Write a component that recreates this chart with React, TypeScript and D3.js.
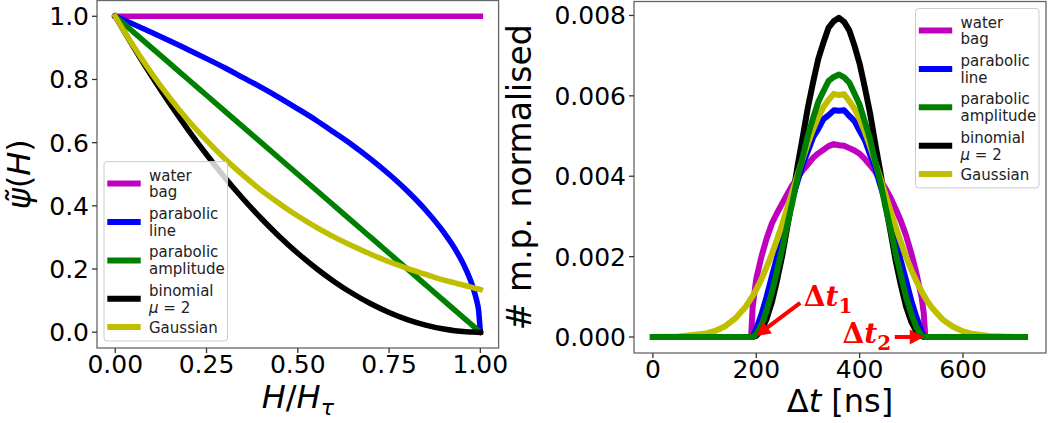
import React from 'react';
import * as d3 from 'd3';

// ---------- Left panel data: psi~(H) versus H/H_tau ----------
const hGrid = [0, 0.05, 0.1, 0.15, 0.2, 0.25, 0.3, 0.35, 0.4, 0.45, 0.5, 0.55, 0.6, 0.65, 0.7, 0.75, 0.8, 0.85, 0.9, 0.93, 0.96, 0.98, 0.99, 0.995, 1];
const psiWaterBag = [1, 1, 1, 1, 1, 1, 1, 1, 1, 1, 1, 1, 1, 1, 1, 1, 1, 1, 1, 1, 1, 1, 1, 1, 1];
const psiParabolicLine = [1, 0.975, 0.949, 0.922, 0.894, 0.866, 0.837, 0.806, 0.775, 0.742, 0.707, 0.671, 0.632, 0.592, 0.548, 0.5, 0.447, 0.387, 0.316, 0.265, 0.2, 0.141, 0.1, 0.071, 0];
const psiParabolicAmplitude = [1, 0.95, 0.9, 0.85, 0.8, 0.75, 0.7, 0.65, 0.6, 0.55, 0.5, 0.45, 0.4, 0.35, 0.3, 0.25, 0.2, 0.15, 0.1, 0.07, 0.04, 0.02, 0.01, 0.005, 0];
const psiBinomial = [1, 0.9025, 0.81, 0.7225, 0.64, 0.5625, 0.49, 0.4225, 0.36, 0.3025, 0.25, 0.2025, 0.16, 0.1225, 0.09, 0.0625, 0.04, 0.0225, 0.01, 0.0049, 0.0016, 0.0004, 0.0001, 0, 0];
const psiGaussian = [1, 0.905, 0.819, 0.741, 0.67, 0.607, 0.549, 0.497, 0.449, 0.407, 0.368, 0.333, 0.301, 0.273, 0.247, 0.223, 0.202, 0.183, 0.165, 0.156, 0.147, 0.141, 0.138, 0.137, 0.135];

// ---------- Right panel data: # m.p. normalised (units of 1e-3) versus Δt [ns] ----------
const tGrid = [0, 50, 100, 120, 140, 160, 180, 190, 193, 200, 210, 220, 230, 240, 250, 260, 270, 280, 290, 300, 310, 320, 330, 340, 350, 360, 370, 380, 390, 400, 410, 420, 430, 440, 450, 460, 470, 480, 490, 500, 510, 520, 524, 527, 530, 540, 560, 580, 600, 620, 650, 700, 720];
const dtWaterBag = [0, 0, 0, 0, 0, 0, 0, 0, 0.75, 1.45, 2.0, 2.45, 2.82, 3.08, 3.32, 3.55, 3.78, 3.97, 4.15, 4.3, 4.46, 4.57, 4.66, 4.75, 4.8, 4.77, 4.76, 4.7, 4.64, 4.56, 4.43, 4.28, 4.12, 3.9, 3.7, 3.46, 3.18, 2.88, 2.52, 2.08, 1.58, 0.98, 0.6, 0, 0, 0, 0, 0, 0, 0, 0, 0, 0];
const dtParabolicLine = [0, 0, 0, 0, 0, 0, 0, 0, 0, 0.2, 0.56, 1.0, 1.5, 1.98, 2.5, 2.97, 3.46, 3.88, 4.3, 4.63, 4.97, 5.18, 5.42, 5.52, 5.64, 5.63, 5.64, 5.5, 5.37, 5.13, 4.9, 4.55, 4.22, 3.78, 3.36, 2.87, 2.4, 1.88, 1.4, 0.9, 0.49, 0.13, 0.02, 0, 0, 0, 0, 0, 0, 0, 0, 0, 0];
const dtParabolicAmplitude = [0, 0, 0, 0, 0, 0, 0, 0, 0, 0.07, 0.3, 0.66, 1.1, 1.63, 2.18, 2.79, 3.36, 3.97, 4.49, 5.02, 5.45, 5.85, 6.12, 6.37, 6.47, 6.53, 6.46, 6.33, 6.06, 5.78, 5.36, 4.93, 4.37, 3.86, 3.24, 2.67, 2.06, 1.52, 0.99, 0.58, 0.23, 0.04, 0.01, 0, 0, 0, 0, 0, 0, 0, 0, 0, 0];
const dtBinomial = [0, 0, 0, 0, 0, 0, 0, 0, 0, 0.03, 0.17, 0.45, 0.86, 1.4, 2.01, 2.74, 3.47, 4.26, 4.98, 5.72, 6.34, 6.92, 7.33, 7.7, 7.86, 7.94, 7.84, 7.63, 7.25, 6.8, 6.21, 5.58, 4.83, 4.11, 3.31, 2.6, 1.88, 1.28, 0.75, 0.38, 0.13, 0.02, 0, 0, 0, 0, 0, 0, 0, 0, 0, 0, 0];
const dtGaussian = [0.0015, 0.013, 0.08, 0.15, 0.27, 0.47, 0.76, 0.96, 1.02, 1.18, 1.44, 1.74, 2.06, 2.42, 2.8, 3.21, 3.62, 4.04, 4.44, 4.82, 5.17, 5.47, 5.72, 5.9, 6.05, 6.02, 6.04, 5.87, 5.68, 5.42, 5.11, 4.75, 4.36, 3.96, 3.54, 3.13, 2.73, 2.35, 1.99, 1.67, 1.39, 1.13, 1.04, 0.98, 0.91, 0.73, 0.44, 0.26, 0.14, 0.074, 0.025, 0.003, 0.001];

// ---------- Ticks / labels ----------
const leftXTicks = [0, 0.25, 0.5, 0.75, 1.0];
const leftYTicks = [0, 0.2, 0.4, 0.6, 0.8, 1.0];
const rightXTicks = [0, 200, 400, 600];
const rightYTicks = [0, 2, 4, 6, 8];
const legendLabels = [['water', 'bag'], ['parabolic', 'line'], ['parabolic', 'amplitude'], ['binomial', 'MU'], ['Gaussian']];
const seriesColors = ['#bf00bf', '#0000ff', '#008000', '#000000', '#bfbf00'];

const FONT = 'DejaVu Sans, sans-serif';
const TICK_FS = 25;
const LABEL_FS = 32;
const LEG_W = 123.5;
const LEG_H = 179.4;

function Legend({ x, y }: { x: number; y: number }) {
  const rows = [22, 60.4, 98.8, 137.2, 165.5];
  return (
    <g>
      <rect x={x} y={y} width={LEG_W} height={LEG_H} rx={3} fill="#ffffff" fillOpacity={0.8} stroke="#cccccc" strokeWidth={1} />
      {legendLabels.map((lines, i) => {
        const cy = y + rows[i];
        return (
          <g key={i}>
            <line x1={x + 3.3} x2={x + 36.7} y1={cy} y2={cy} stroke={seriesColors[i]} strokeWidth={6} />
            {lines.map((ln, j) => {
              const base = lines.length === 1 ? cy + 5.5 : cy + (j === 0 ? -3 : 13.8);
              return (
                <text key={j} x={x + 45} y={base} fontSize={15} fontFamily={FONT} fill="#222">
                  {ln === 'MU' ? (
                    <>
                      <tspan fontStyle="italic">μ</tspan>
                      <tspan> = 2</tspan>
                    </>
                  ) : (
                    ln
                  )}
                </text>
              );
            })}
          </g>
        );
      })}
    </g>
  );
}

function Arrow({ x1, y1, x2, y2 }: { x1: number; y1: number; x2: number; y2: number }) {
  const dx = x2 - x1, dy = y2 - y1;
  const len = Math.hypot(dx, dy);
  const ux = dx / len, uy = dy / len;
  const hl = 14, hw = 7.5;
  const bx = x2 - ux * hl, by = y2 - uy * hl;
  const px = -uy, py = ux;
  return (
    <g>
      <line x1={x1} y1={y1} x2={bx + ux * 2} y2={by + uy * 2} stroke="#ff0000" strokeWidth={4} />
      <path d={`M${x2},${y2} L${bx + px * hw},${by + py * hw} L${bx - px * hw},${by - py * hw} Z`} fill="#ff0000" />
    </g>
  );
}

function DeltaLabel({ x, y, sub }: { x: number; y: number; sub: string }) {
  return (
    <text x={x} y={y} fontFamily="DejaVu Serif, serif" fontWeight="bold" fontSize={28} fill="#ff0000">
      <tspan>Δ</tspan>
      <tspan fontStyle="italic">t</tspan>
      <tspan fontSize={20} dy={7}>{sub}</tspan>
    </text>
  );
}

export default function App() {
  // left panel
  const xL = d3.scaleLinear().domain([-0.05, 1.05]).range([97, 498.6]);
  const yL = d3.scaleLinear().domain([-0.05, 1.05]).range([348, 0.5]);
  // right panel
  const xR = d3.scaleLinear().domain([-36.6, 760.6]).range([634, 1046]);
  const yR = d3.scaleLinear().domain([-0.3975, 8.3475]).range([353, 1.5]);

  const leftSeries = [psiWaterBag, psiParabolicLine, psiParabolicAmplitude, psiBinomial, psiGaussian];
  const rightSeries = [dtWaterBag, dtParabolicLine, dtParabolicAmplitude, dtBinomial, dtGaussian];
  const rightOrder = [0, 1, 3, 4, 2];

  const lineL = (vals: number[]) =>
    d3.line<number>().x((_, i) => xL(hGrid[i])).y((d) => yL(d)).curve(d3.curveMonotoneX)(vals) || '';
  const lineR = (vals: number[]) =>
    d3.line<number>().x((_, i) => xR(tGrid[i])).y((d) => yR(d)).curve(d3.curveLinear)(vals) || '';

  const fmtL = d3.format('.2f');
  const fmtLy = d3.format('.1f');
  const fmtR = (v: number) => d3.format('.3f')(v / 1000);

  const [lx0, lx1] = xL.range();
  const [ly0, ly1] = yL.range();
  const [rx0, rx1] = xR.range();
  const [ry0, ry1] = yR.range();

  return (
    <svg width={1057} height={423} style={{ position: 'absolute', left: 0, top: 0 }} fontFamily={FONT}>
      <rect x={0} y={0} width={1057} height={423} fill="#fff" />
      {/* ===== Left panel ===== */}
      <g>
        {leftSeries.map((vals, i) => (
          <path key={i} d={lineL(vals)} fill="none" stroke={seriesColors[i]} strokeWidth={5.5} strokeLinecap="square" strokeLinejoin="round" />
        ))}
        <rect x={lx0} y={ly1} width={lx1 - lx0} height={ly0 - ly1} fill="none" stroke="#666" strokeWidth={1.3} />
        {leftXTicks.map((t) => (
          <g key={t}>
            <line x1={xL(t)} x2={xL(t)} y1={ly0} y2={ly0 + 5} stroke="#333" strokeWidth={1.3} />
            <text x={xL(t)} y={ly0 + 25} textAnchor="middle" fontSize={TICK_FS} fill="#000">{fmtL(t)}</text>
          </g>
        ))}
        {leftYTicks.map((t) => (
          <g key={t}>
            <line x1={lx0 - 5} x2={lx0} y1={yL(t)} y2={yL(t)} stroke="#333" strokeWidth={1.3} />
            <text x={lx0 - 8} y={yL(t) + 9} textAnchor="end" fontSize={TICK_FS} fill="#000">{fmtLy(t)}</text>
          </g>
        ))}
        <text x={(lx0 + lx1) / 2} y={ly0 + 60} textAnchor="middle" fontSize={LABEL_FS} fill="#000">
          <tspan fontStyle="italic">H</tspan>
          <tspan>/</tspan>
          <tspan fontStyle="italic">H</tspan>
          <tspan fontStyle="italic" fontSize={22} dy={7}>τ</tspan>
        </text>
        <text transform={`translate(30,${(ly0 + ly1) / 2}) rotate(-90)`} textAnchor="middle" fontSize={LABEL_FS} fill="#000">
          <tspan fontStyle="italic">ψ̃</tspan>
          <tspan>(</tspan>
          <tspan fontStyle="italic">H</tspan>
          <tspan>)</tspan>
        </text>
        <Legend x={lx0 + 7} y={ly0 - 7 - LEG_H} />
      </g>

      {/* ===== Right panel ===== */}
      <g>
        {rightOrder.map((i) => (
          <path key={i} d={lineR(rightSeries[i])} fill="none" stroke={seriesColors[i]} strokeWidth={6} strokeLinecap="square" strokeLinejoin="round" />
        ))}
        <rect x={rx0} y={ry1} width={rx1 - rx0} height={ry0 - ry1} fill="none" stroke="#666" strokeWidth={1.3} />
        {rightXTicks.map((t) => (
          <g key={t}>
            <line x1={xR(t)} x2={xR(t)} y1={ry0} y2={ry0 + 5} stroke="#333" strokeWidth={1.3} />
            <text x={xR(t)} y={ry0 + 25} textAnchor="middle" fontSize={TICK_FS} fill="#000">{t}</text>
          </g>
        ))}
        {rightYTicks.map((t) => (
          <g key={t}>
            <line x1={rx0 - 5} x2={rx0} y1={yR(t)} y2={yR(t)} stroke="#333" strokeWidth={1.3} />
            <text x={rx0 - 8} y={yR(t) + 9} textAnchor="end" fontSize={TICK_FS} fill="#000">{fmtR(t)}</text>
          </g>
        ))}
        <text x={(rx0 + rx1) / 2} y={ry0 + 59} textAnchor="middle" fontSize={LABEL_FS} fill="#000">
          <tspan>Δ</tspan>
          <tspan fontStyle="italic">t</tspan>
          <tspan> [ns]</tspan>
        </text>
        <text transform={`translate(531,${(ry0 + ry1) / 2}) rotate(-90)`} textAnchor="middle" fontSize={33} fill="#000">
          # m.p. normalised
        </text>
        <Legend x={rx1 - 7 - LEG_W} y={ry1 + 7} />

        {/* annotations */}
        <Arrow x1={xR(285)} y1={yR(0.85)} x2={xR(200)} y2={yR(0.03)} />
        <DeltaLabel x={xR(292)} y={yR(0.78)} sub="1" />
        <Arrow x1={xR(468)} y1={yR(0)} x2={xR(524)} y2={yR(0)} />
        <DeltaLabel x={xR(367)} y={yR(-0.15)} sub="2" />
      </g>
    </svg>
  );
}
